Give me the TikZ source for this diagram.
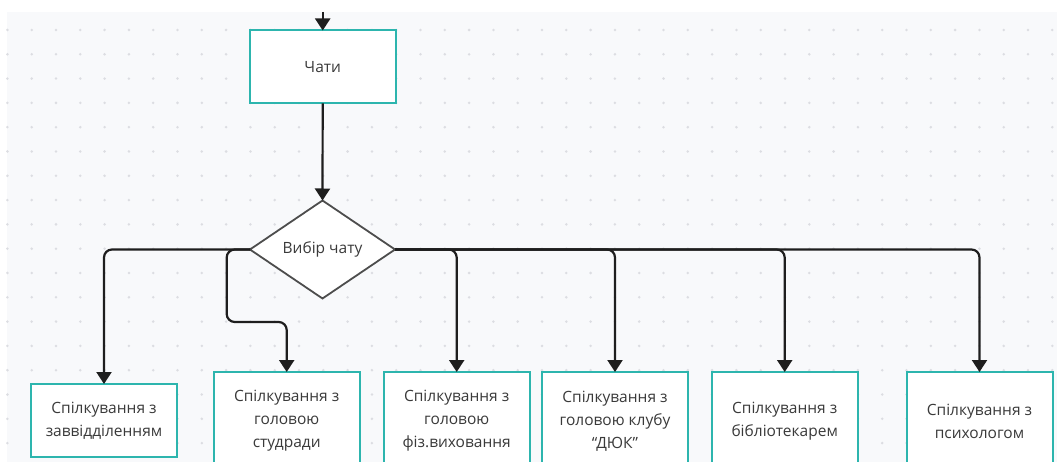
\documentclass[tikz,border=0pt]{standalone}
\usepackage{fontspec}
\setmainfont{Open Sans}
\usetikzlibrary{shapes.geometric,arrows.meta}
\definecolor{bg}{HTML}{F8F9FB}
\definecolor{dotc}{HTML}{DCDDE2}
\definecolor{teal1}{HTML}{2DB5AE}
\definecolor{txt}{HTML}{3A3A3A}
\definecolor{ln}{HTML}{1E1E1E}
\definecolor{dia}{HTML}{4D4D4D}
\begin{document}
\begin{tikzpicture}[x=1pt,y=-1pt,
  box/.style={draw=teal1, line width=2pt, fill=white, minimum width=146pt, minimum height=73pt, inner sep=0pt, outer sep=0pt, align=center, font=\fontsize{15.5}{23}\selectfont, text=txt},
  tallbox/.style={box, minimum height=98pt},
  choice/.style={diamond, draw=dia, line width=1.8pt, fill=white, minimum width=145pt, minimum height=98pt, aspect=1.48, inner sep=0pt, outer sep=0pt, font=\fontsize{15.5}{23}\selectfont, text=txt},
  conn/.style={draw=ln, line width=2.2pt, -{Triangle[width=15pt,length=12pt]}, rounded corners=8pt}]
\useasboundingbox (0,0) rectangle (1057,462);
\clip (0,0) rectangle (1057,462);
\fill[white] (0,0) rectangle (1057,462);
\fill[bg] (7,12) rectangle (1057,462);
\foreach \i in {0,...,43} \foreach \j in {0,...,17} \fill[dotc] (7.4+24.3*\i, 30+24.3*\j) circle (1.4pt);
\node[box] (chati) at (322.7,67) {Чати};
\node[choice] (vyb) at (322.5,249.5) {Вибір чату};
\node[box] (b1) at (104,420.5) {Спілкування з\\заввідділенням};
\node[tallbox] (b2) at (286.7,421) {Спілкування з\\головою\\студради};
\node[tallbox] (b3) at (456.7,421) {Спілкування з\\головою\\фіз.виховання};
\node[tallbox] (b4) at (615,421) {Спілкування з\\головою клубу\\“ДЮК”};
\node[tallbox] (b5) at (784.7,421) {Спілкування з\\бібліотекарем};
\node[tallbox] (b6) at (979.5,421) {Спілкування з\\психологом};
\coordinate (top) at (322.7,12);
\coordinate (k2) at (226.7,322);
\draw[conn] (top) -- (chati.north);
\draw[conn] (chati.south) -- (vyb.north);
\draw[conn] (vyb.west) -| (b1.north);
\draw[conn] (vyb.west) -| (k2) -| (b2.north);
\draw[conn] (vyb.east) -| (b3.north);
\draw[conn] (vyb.east) -| (b4.north);
\draw[conn] (vyb.east) -| (b5.north);
\draw[conn] (vyb.east) -| (b6.north);
\end{tikzpicture}
\end{document}
